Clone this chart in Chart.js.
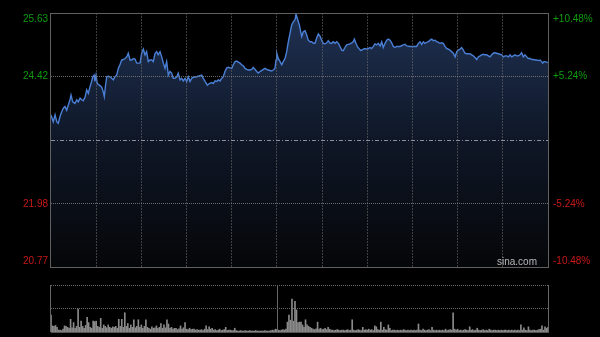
<!DOCTYPE html>
<html>
<head>
<meta charset="utf-8">
<script src="https://cdn.jsdelivr.net/npm/chart.js@4.4.1/dist/chart.umd.min.js"></script>
<style>
  html, body { margin: 0; padding: 0; background: #000; }
  #wrap { position: relative; width: 600px; height: 337px; }
  canvas { position: absolute; left: 0; }
  #price { top: 0; }
  #volume { top: 278px; }
</style>
</head>
<body>
<div id="wrap">
  <canvas id="price" width="600" height="278"></canvas>
  <canvas id="volume" width="600" height="59"></canvas>
</div>
<script>
// minutes since the open (09:30), 12:00/13:00 break sits at minute 150
const times = [
  0, 1.5, 2.7, 3.8, 4.8, 6.0, 7.1, 8.2, 9.3, 10.4,
  11.5, 12.6, 13.3, 14.4, 15.9, 17.1, 18.1, 19.3, 20.4, 21.4,
  22.6, 23.7, 24.8, 25.9, 27.0, 27.7, 28.6, 29.2, 29.9, 30.7,
  32.1, 33.7, 34.7, 35.4, 36.1, 37.0, 38.0, 39.2, 40.3, 41.4,
  42.5, 43.6, 44.7, 45.8, 46.9, 48.0, 49.1, 50.3, 51.3, 52.5,
  53.6, 54.6, 55.8, 56.9, 58.0, 59.1, 60.2, 61.3, 62.4, 63.5,
  64.6, 65.7, 66.9, 67.9, 69.1, 70.2, 71.2, 72.4, 73.5, 74.6,
  75.7, 76.8, 77.9, 79.0, 80.1, 81.2, 82.3, 83.5, 84.5, 85.7,
  86.8, 87.8, 89.0, 90.1, 91.2, 92.3, 93.4, 94.5, 96.7, 98.9,
  100.1, 101.1, 102.3, 103.8, 105.1, 106.7, 107.8, 108.9, 110.0, 111.1,
  112.2, 113.3, 114.4, 115.5, 116.7, 117.7, 118.9, 120.0, 121.0, 122.2,
  123.3, 124.4, 125.5, 126.6, 127.7, 128.8, 129.9, 131.0, 132.1, 133.3,
  134.3, 135.5, 136.6, 137.6, 138.8, 141.0, 142.1, 143.2, 144.3, 145.4,
  146.5, 147.6, 148.7, 149.4, 149.9, 150.9, 152.1, 153.2, 154.2, 155.4,
  156.5, 157.6, 158.7, 159.8, 160.9, 162.0, 162.7, 163.5, 164.9, 165.8,
  166.5, 167.5, 168.7, 169.8, 170.8, 172.0, 173.1, 174.2, 175.3, 176.4,
  177.5, 178.6, 179.7, 180.8, 181.9, 183.1, 184.1, 185.3, 186.4, 187.4,
  188.6, 189.7, 190.8, 191.9, 193.0, 194.1, 195.2, 196.3, 197.4, 198.5,
  199.7, 200.7, 201.4, 202.5, 203.4, 204.7, 205.8, 207.4, 208.5, 209.6,
  210.7, 211.8, 212.9, 214.0, 215.1, 216.3, 217.3, 218.5, 219.6, 220.6,
  221.8, 222.9, 224.0, 225.1, 226.2, 227.3, 228.4, 229.5, 231.7, 233.9,
  235.1, 236.2, 238.4, 240.6, 242.8, 243.9, 245.0, 246.1, 247.2, 248.3,
  249.5, 250.5, 251.7, 252.8, 253.8, 255.0, 256.1, 257.2, 258.3, 259.4,
  260.5, 261.6, 262.7, 263.8, 264.9, 266.1, 267.1, 268.3, 269.4, 270.5,
  271.6, 272.7, 273.8, 274.9, 276.0, 278.2, 279.3, 280.4, 281.5, 282.7,
  283.7, 284.9, 286.0, 287.0, 288.2, 289.3, 290.4, 291.5, 292.6, 293.7,
  294.8, 295.9, 297.0, 298.1, 299.3, 300.3, 301.5, 302.6, 303.7, 304.8,
  305.9, 307.0, 308.1, 309.2, 310.3, 311.4, 312.5, 313.6, 314.7, 315.9,
  316.9, 318.1, 319.2, 320.2, 321.4, 322.5, 323.6, 324.7, 325.8, 326.5,
  327.4, 329.1, 330.0
];

const prices = [
  23.68, 23.55, 23.68, 23.55, 23.52, 23.65, 23.74, 23.81, 23.84, 23.77,
  23.87, 23.97, 24.06, 23.93, 23.90, 23.97, 23.93, 24.00, 23.97, 23.95,
  24.02, 24.16, 24.09, 24.22, 24.32, 24.41, 24.44, 24.32, 24.44, 24.28,
  24.25, 24.21, 24.12, 24.03, 24.22, 24.41, 24.42, 24.41, 24.38, 24.35,
  24.41, 24.44, 24.57, 24.64, 24.73, 24.74, 24.76, 24.79, 24.86, 24.73,
  24.73, 24.76, 24.75, 24.67, 24.67, 24.67, 24.86, 24.94, 24.83, 24.89,
  24.70, 24.73, 24.73, 24.70, 24.86, 24.89, 24.83, 24.89, 24.79, 24.67,
  24.57, 24.70, 24.44, 24.51, 24.48, 24.38, 24.38, 24.41, 24.48, 24.35,
  24.38, 24.33, 24.38, 24.32, 24.41, 24.32, 24.38, 24.40, 24.41, 24.43,
  24.44, 24.38, 24.32, 24.25, 24.28, 24.30, 24.28, 24.33, 24.32, 24.35,
  24.33, 24.38, 24.41, 24.51, 24.58, 24.59, 24.58, 24.57, 24.64, 24.70,
  24.71, 24.69, 24.67, 24.64, 24.62, 24.57, 24.55, 24.54, 24.54, 24.55,
  24.59, 24.55, 24.51, 24.48, 24.51, 24.55, 24.57, 24.55, 24.54, 24.53,
  24.52, 24.54, 24.57, 24.73, 24.86, 24.76, 24.70, 24.64, 24.70, 24.76,
  24.89, 25.08, 25.24, 25.40, 25.46, 25.50, 25.61, 25.53, 25.40, 25.27,
  25.18, 25.27, 25.29, 25.21, 25.11, 25.08, 25.08, 25.05, 25.05, 25.15,
  25.23, 25.19, 25.11, 25.05, 25.04, 25.06, 25.10, 25.05, 25.05, 25.08,
  25.05, 25.08, 25.05, 24.99, 24.92, 24.91, 24.97, 25.02, 25.03, 25.04,
  25.06, 25.08, 25.13, 25.05, 24.99, 24.94, 24.91, 24.94, 24.95, 24.94,
  24.95, 24.97, 24.95, 24.99, 25.04, 25.02, 25.05, 25.00, 25.08, 24.97,
  25.05, 25.11, 25.13, 25.11, 25.06, 24.99, 24.97, 24.99, 24.99, 25.02,
  25.03, 25.00, 24.99, 24.99, 24.99, 25.05, 25.08, 25.03, 25.08, 25.05,
  25.07, 25.08, 25.11, 25.13, 25.10, 25.11, 25.08, 25.07, 25.05, 25.06,
  25.05, 24.99, 24.95, 24.94, 24.92, 24.89, 24.86, 24.79, 24.89, 24.92,
  24.94, 24.97, 24.92, 24.86, 24.85, 24.85, 24.83, 24.81, 24.78, 24.74,
  24.79, 24.81, 24.83, 24.84, 24.83, 24.83, 24.81, 24.79, 24.83, 24.86,
  24.87, 24.86, 24.85, 24.84, 24.83, 24.79, 24.81, 24.81, 24.79, 24.83,
  24.79, 24.81, 24.83, 24.81, 24.81, 24.83, 24.87, 24.79, 24.83, 24.79,
  24.76, 24.76, 24.74, 24.74, 24.73, 24.73, 24.72, 24.73, 24.70, 24.67,
  24.70, 24.69, 24.68
];

// one bar per minute, as a share of the panel height (100 = top line)
const volumes = [
  36, 13, 12, 14, 10, 4, 4, 3, 6, 13,
  12, 10, 8, 27, 9, 20, 8, 12, 49, 10,
  23, 12, 8, 14, 31, 20, 10, 8, 23, 22,
  23, 12, 10, 29, 8, 15, 12, 9, 15, 10,
  8, 11, 10, 12, 8, 27, 12, 27, 10, 41,
  12, 18, 8, 15, 10, 26, 9, 12, 26, 10,
  15, 8, 12, 26, 10, 8, 6, 11, 8, 9,
  13, 8, 10, 18, 8, 15, 9, 26, 17, 8,
  10, 6, 8, 8, 5, 7, 13, 6, 9, 20,
  6, 5, 8, 5, 6, 6, 4, 5, 4, 4,
  5, 3, 6, 13, 5, 11, 6, 8, 4, 5,
  3, 4, 6, 3, 4, 5, 10, 3, 4, 4,
  3, 3, 8, 3, 2, 2, 3, 2, 2, 3,
  2, 2, 3, 2, 2, 2, 3, 2, 2, 2,
  2, 2, 3, 2, 2, 2, 3, 4, 3, 6,
  5, 4, 3, 4, 5, 4, 6, 21, 36, 25,
  70, 23, 65, 47, 20, 21, 21, 15, 10, 26,
  15, 12, 10, 8, 6, 5, 7, 21, 6, 8,
  5, 6, 8, 5, 10, 6, 4, 4, 3, 4,
  5, 4, 3, 4, 4, 3, 4, 5, 3, 4,
  26, 4, 3, 4, 5, 4, 3, 10, 4, 5,
  4, 6, 4, 5, 3, 13, 11, 5, 4, 21,
  4, 10, 5, 4, 15, 8, 3, 4, 4, 3,
  4, 3, 4, 3, 5, 4, 3, 4, 3, 4,
  3, 4, 3, 4, 17, 4, 3, 6, 4, 3,
  4, 5, 3, 10, 4, 3, 4, 3, 4, 3,
  4, 3, 6, 3, 4, 5, 4, 41, 6, 4,
  6, 3, 4, 3, 4, 5, 4, 3, 11, 4,
  5, 3, 4, 8, 4, 3, 4, 5, 3, 4,
  3, 6, 4, 3, 4, 4, 3, 4, 3, 4,
  3, 4, 4, 3, 4, 3, 4, 3, 4, 3,
  4, 3, 15, 4, 9, 4, 3, 11, 4, 3,
  4, 4, 3, 4, 5, 6, 13, 4, 11, 8,
  10
];

const prevClose = 23.20;
const priceTicks = [25.63, 24.42, 21.98, 20.77];
const priceLabels = ['25.63', '24.42', '21.98', '20.77'];
const pctLabels = ['+10.48%', '+5.24%', '-5.24%', '-10.48%'];

const UP = '#0e9c0e';
const DOWN = '#c81818';
const FONT = '10px "Liberation Sans", Arial, sans-serif';

const crisp = v => Math.round(v) + 0.5;

// frame, previous-close line, axis labels and watermark
const priceDecor = {
  id: 'priceDecor',
  afterDraw(chart) {
    const { ctx, chartArea: a, scales: { y } } = chart;
    ctx.save();
    // previous close, dash-dot
    const yc = crisp(y.getPixelForValue(prevClose));
    ctx.strokeStyle = '#8b919c';
    ctx.lineWidth = 1;
    ctx.setLineDash([4, 2, 1, 2]);
    ctx.beginPath();
    ctx.moveTo(a.left, yc);
    ctx.lineTo(a.right, yc);
    ctx.stroke();
    ctx.setLineDash([]);

    ctx.strokeStyle = '#606060';
    ctx.strokeRect(crisp(a.left) - 1, crisp(a.top), Math.round(a.right - a.left) + 1, Math.round(a.bottom - a.top));

    ctx.font = FONT;
    ctx.textBaseline = 'middle';
    priceTicks.forEach((v, i) => {
      let py = y.getPixelForValue(v);
      if (i === 0) py += 6;
      if (i === priceTicks.length - 1) py -= 6;
      ctx.fillStyle = v > prevClose ? UP : DOWN;
      ctx.textAlign = 'right';
      ctx.fillText(priceLabels[i], a.left - 3, py);
      ctx.textAlign = 'left';
      ctx.fillText(pctLabels[i], a.right + 5, py);
    });

    ctx.fillStyle = '#b8b8b8';
    ctx.textAlign = 'right';
    ctx.fillText('sina.com', a.right - 11, a.bottom - 5);
    ctx.restore();
  }
};

new Chart(document.getElementById('price'), {
  type: 'line',
  data: {
    datasets: [{
      data: times.map((t, i) => ({ x: t, y: prices[i] })),
      borderColor: '#4a7fd6',
      borderWidth: 1.4,
      pointRadius: 0,
      tension: 0,
      fill: 'start',
      backgroundColor: ctx => {
        const { ctx: c, chartArea: a } = ctx.chart;
        if (!a) return 'rgba(0,0,0,0)';
        const g = c.createLinearGradient(0, a.top, 0, a.bottom);
        g.addColorStop(0, '#1f3152');
        g.addColorStop(0.5, '#0f1727');
        g.addColorStop(1, '#050608');
        return g;
      }
    }]
  },
  options: {
    responsive: false,
    animation: false,
    layout: { padding: { top: 13, bottom: 11, left: 0, right: 52 } },
    plugins: { legend: { display: false }, tooltip: { enabled: false } },
    scales: {
      x: {
        type: 'linear', min: 0, max: 330,
        ticks: { display: false, stepSize: 30 },
        afterFit: s => { s.height = 0; },
        grid: {
          z: 1,
          drawTicks: false,
          color: c => (c.tick.value === 0 || c.tick.value === 330) ? 'rgba(0,0,0,0)' : 'rgba(110,110,110,0.55)'
        },
        border: { display: false, dash: [2, 1] }
      },
      y: {
        min: 20.77, max: 25.63,
        afterBuildTicks: s => { s.ticks = priceTicks.map(v => ({ value: v })); },
        afterFit: s => { s.width = 51; },
        ticks: { display: false },
        grid: {
          z: 1,
          drawTicks: false,
          color: c => (c.tick.value === 25.63 || c.tick.value === 20.77) ? 'rgba(0,0,0,0)' : 'rgba(130,130,130,0.8)'
        },
        border: { display: false, dash: [1, 1] }
      }
    }
  },
  plugins: [priceDecor]
});

const volumeDecor = {
  id: 'volumeDecor',
  afterDraw(chart) {
    const { ctx, chartArea: a, scales: { x } } = chart;
    ctx.save();
    ctx.strokeStyle = '#666';
    ctx.lineWidth = 1;
    ctx.beginPath();
    [a.left - 1, x.getPixelForValue(150), a.right].forEach(px => {
      ctx.moveTo(crisp(px), a.top);
      ctx.lineTo(crisp(px), a.bottom);
    });
    ctx.stroke();
    ctx.restore();
  }
};

new Chart(document.getElementById('volume'), {
  type: 'bar',
  data: {
    datasets: [{
      data: volumes.map((v, i) => ({ x: i, y: v })),
      backgroundColor: '#8a8a8a',
      barThickness: 1
    }]
  },
  options: {
    responsive: false,
    animation: false,
    layout: { padding: { top: 7, bottom: 5, left: 0, right: 52 } },
    plugins: { legend: { display: false }, tooltip: { enabled: false } },
    scales: {
      x: {
        type: 'linear', min: 0, max: 330, offset: false,
        ticks: { display: false },
        afterFit: s => { s.height = 0; },
        grid: { display: false },
        border: { display: true, color: '#555' }
      },
      y: {
        min: 0, max: 100,
        afterBuildTicks: s => { s.ticks = [50, 100].map(v => ({ value: v })); },
        afterFit: s => { s.width = 51; },
        ticks: { display: false },
        grid: { drawTicks: false, color: '#6a6a6a' },
        border: { display: false, dash: [1, 1] }
      }
    }
  },
  plugins: [volumeDecor]
});
</script>
</body>
</html>
